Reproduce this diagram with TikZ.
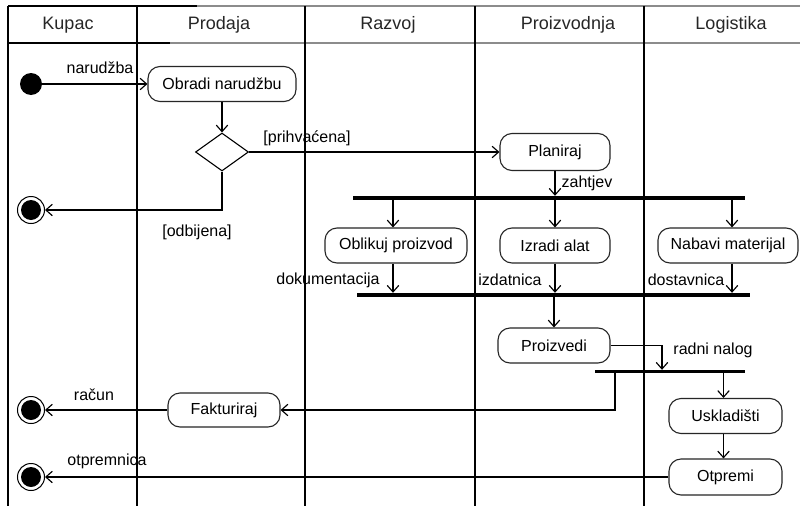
\documentclass[tikz,border=0pt]{standalone}
\usepackage{fontspec}
\setmainfont{Liberation Sans}
\usetikzlibrary{arrows.meta,shapes.geometric}

\begin{document}
\begin{tikzpicture}[x=1pt,y=-1pt,
  lane/.style={line width=1.4pt, black},
  headline/.style={line width=1.6pt, black!45},
  headdark/.style={line width=1.6pt, black},
  action/.style={draw=black!85, fill=white, line width=1.1pt, rounded corners=12pt,
    minimum height=35pt, inner sep=0pt, font=\fontsize{16}{16}\selectfont},
  flow/.style={line width=1.15pt, -{Straight Barb[length=6.5pt,width=11.5pt]}},
  syncbar/.style={fill=black, inner sep=0pt, minimum height=4pt},
  lbl/.style={inner sep=0pt, font=\fontsize{16}{16}\selectfont},
  head/.style={inner sep=0pt, text=black!85, font=\fontsize{18}{18}\selectfont},
  startnode/.style={circle, fill=black, minimum size=22pt, inner sep=0pt},
  endnode/.style={circle, draw=black, fill=white, line width=1pt, minimum size=27pt, inner sep=0pt,
    path picture={\fill[black] (path picture bounding box.center) circle (10pt);}},
  decision/.style={diamond, draw=black, fill=white, line width=1.1pt, inner sep=0pt,
    minimum width=53pt, minimum height=38pt}
]
\useasboundingbox (0,0) rectangle (800,506);
\fill[white] (0,0) rectangle (800,506);

% swimlane frame
\draw[headline] (8,6) -- (800,6);
\draw[headline] (8,43) -- (800,43);
\draw[headdark] (8,6) -- (197,6);
\draw[headdark] (8,43) -- (170,43);
\foreach \lx in {8,137,305,475,644}
  \draw[lane] (\lx,6) -- (\lx,506);

% lane titles
\node[head] (hKupac) at (68,25) {Kupac};
\node[head] (hProdaja) at (219,25) {Prodaja};
\node[head] (hRazvoj) at (388,25) {Razvoj};
\node[head] (hProizvodnja) at (568,25) {Proizvodnja};
\node[head] (hLogistika) at (731,25) {Logistika};

% activity nodes
\node[startnode] (start) at (31,84) {};
\node[action, minimum width=148pt] (obradi) at (222,84) {Obradi narudžbu};
\node[decision] (dec) at (222,152) {};
\node[endnode] (end1) at (31,210) {};
\node[action, minimum width=110pt, minimum height=37pt] (plan) at (555,152) {Planiraj};
\node[syncbar, minimum width=392pt] (fork1) at (549,198) {};
\node[action, minimum width=142pt] (oblikuj) at (396,245.5) {Oblikuj proizvod};
\node[action, minimum width=110pt] (izradi) at (555,245.5) {Izradi alat};
\node[action, minimum width=140pt] (nabavi) at (728,245.5) {Nabavi materijal};
\node[syncbar, minimum width=393pt] (join1) at (553.5,295) {};
\node[action, minimum width=112pt] (proizvedi) at (554,345.5) {Proizvedi};
\node[syncbar, minimum width=150pt, minimum height=3pt] (fork2) at (670,371.5) {};
\node[action, minimum width=112pt, minimum height=34pt] (fakturiraj) at (224,410) {Fakturiraj};
\node[endnode] (end2) at (31,410) {};
\node[action, minimum width=113pt] (uskladisti) at (725.5,416) {Uskladišti};
\node[action, minimum width=113pt, minimum height=36pt] (otpremi) at (725.5,477) {Otpremi};
\node[endnode] (end3) at (31,477) {};

% control and object flows
\draw[flow] (start) -- (obradi);
\draw[flow] (obradi) -- (dec);
\draw[flow] (dec.east) -- (plan.west);
\draw[flow] (dec.south) |- (end1);
\draw[flow] (plan.south) -- (plan.south |- fork1.north);
\draw[flow] ([xshift=-3pt]fork1.south -| oblikuj.north) -- ([xshift=-3pt]oblikuj.north);
\draw[flow] (fork1.south -| izradi.north) -- (izradi.north);
\draw[flow] ([xshift=4pt]fork1.south -| nabavi.north) -- ([xshift=4pt]nabavi.north);
\draw[flow] ([xshift=-3pt]oblikuj.south) -- ([xshift=-3pt]oblikuj.south |- join1.north);
\draw[flow] (izradi.south) -- (izradi.south |- join1.north);
\draw[flow] ([xshift=4pt]nabavi.south) -- ([xshift=4pt]nabavi.south |- join1.north);
\draw[flow] (join1.south -| proizvedi.north) -- (proizvedi.north);
\draw[flow] (proizvedi.east) -| ([xshift=-8pt]fork2.north);
\draw[flow] ([xshift=-55pt]fork2.south) |- (fakturiraj.east);
\draw[flow] ([xshift=-2pt]fork2.south -| uskladisti.north) -- ([xshift=-2pt]uskladisti.north);
\draw[flow] ([xshift=-2pt]uskladisti.south) -- ([xshift=-2pt]otpremi.north);
\draw[flow] (fakturiraj) -- (end2);
\draw[flow] (otpremi) -- (end3);

% flow labels
\node[lbl] (lNarudzba) at (100,68) {narudžba};
\node[lbl] (lPrihvacena) at (307,138) {[prihvaćena]};
\node[lbl] (lOdbijena) at (197,232) {[odbijena]};
\node[lbl] (lZahtjev) at (587,183) {zahtjev};
\node[lbl] (lDokumentacija) at (328,280) {dokumentacija};
\node[lbl] (lIzdatnica) at (510,280) {izdatnica};
\node[lbl] (lDostavnica) at (686,280) {dostavnica};
\node[lbl] (lRadniNalog) at (713,350) {radni nalog};
\node[lbl] (lRacun) at (94,395) {račun};
\node[lbl] (lOtpremnica) at (107,461) {otpremnica};
\end{tikzpicture}
\end{document}
